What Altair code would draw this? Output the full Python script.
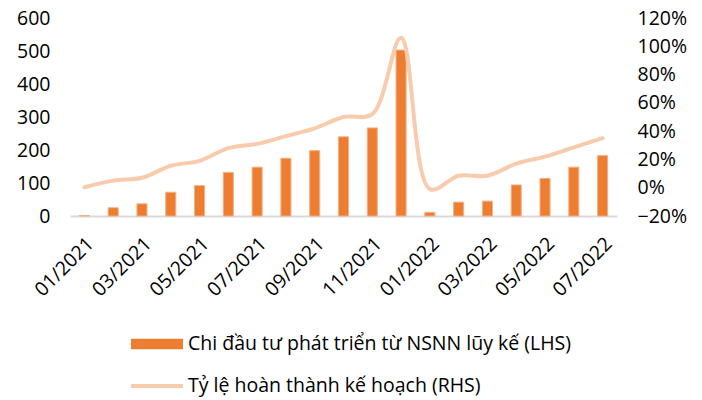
import altair as alt
import pandas as pd

months = ["01/2021", "02/2021", "03/2021", "04/2021", "05/2021", "06/2021",
          "07/2021", "08/2021", "09/2021", "10/2021", "11/2021", "12/2021",
          "01/2022", "02/2022", "03/2022", "04/2022", "05/2022", "06/2022",
          "07/2022"]
spend = [1, 25, 37, 72, 92, 132, 148, 175, 198, 240, 267, 503,
         11, 42, 45, 94, 114, 148, 183]
rate_pct = [0.3, 5, 7, 15.5, 19, 28, 31, 36.5, 42, 50, 52, 106,
            -1, 8.5, 8.5, 17, 22, 28.5, 35]
bar_name = "Chi đầu tư phát triển từ NSNN lũy kế (LHS)"
line_name = "Tỷ lệ hoàn thành kế hoạch (RHS)"

df = pd.DataFrame({
    "month": months,
    "spend": spend,
    "rate": [r / 100 for r in rate_pct],
    "bar_series": bar_name,
    "line_series": line_name,
})

FONT = "Open Sans"
FS = 19.5
TXT = "#000000"

x = alt.X("month:O", sort=months,
          scale=alt.Scale(paddingInner=0.65, paddingOuter=0.325),
          axis=alt.Axis(title=None, values=months[::2], labelAngle=-45,
                        labelFont=FONT, labelFontSize=FS, labelColor=TXT,
                        domainColor="#D9D9D9", domainWidth=2, ticks=False,
                        labelPadding=18))

bars = alt.Chart(df).mark_bar(stroke="#F4B183", strokeWidth=1).encode(
    x=x,
    y=alt.Y("spend:Q", scale=alt.Scale(domain=[0, 600]),
            axis=alt.Axis(title=None, values=[0, 100, 200, 300, 400, 500, 600],
                          grid=False, domain=False, ticks=False,
                          labelFont=FONT, labelFontSize=FS, labelColor=TXT,
                          labelPadding=20)),
    fill=alt.Fill("bar_series:N", scale=alt.Scale(range=["#ED7D31"]),
                  legend=alt.Legend(title=None, orient="none", legendX=61, legendY=300,
                                    padding=0, labelLimit=0,
                                    symbolType="M-1,-0.2L1,-0.2L1,0.2L-1,0.2Z",
                                    symbolSize=2704, symbolStrokeWidth=0,
                                    labelFont=FONT, labelFontSize=FS, labelColor=TXT,
                                    labelOffset=5)),
)

line = alt.Chart(df).mark_line(interpolate="catmull-rom", strokeWidth=4,
                               strokeCap="round").encode(
    x=x,
    y=alt.Y("rate:Q", scale=alt.Scale(domain=[-0.2, 1.2]),
            axis=alt.Axis(title=None, orient="right", format=".0%",
                          values=[-0.2, 0, 0.2, 0.4, 0.6, 0.8, 1.0, 1.2],
                          grid=False, domain=False, ticks=False,
                          labelFont=FONT, labelFontSize=FS, labelColor=TXT,
                          labelPadding=20)),
    stroke=alt.Stroke("line_series:N", scale=alt.Scale(range=["#F8CBAD"]),
                      legend=alt.Legend(title=None, orient="none", legendX=59, legendY=340,
                                        padding=0, labelLimit=0, symbolType="stroke",
                                        symbolSize=2704, symbolStrokeWidth=4,
                                        labelFont=FONT, labelFontSize=FS, labelColor=TXT,
                                        labelOffset=3)),
)

chart = alt.layer(bars, line).resolve_scale(
    y="independent", fill="independent", stroke="independent"
).properties(
    width=547, height=198, autosize="none",
    padding={"left": 62, "top": 10, "right": 77, "bottom": 184},
).configure_view(stroke=None)

chart.save("out.html", embed_options={"renderer": "svg", "actions": False})
